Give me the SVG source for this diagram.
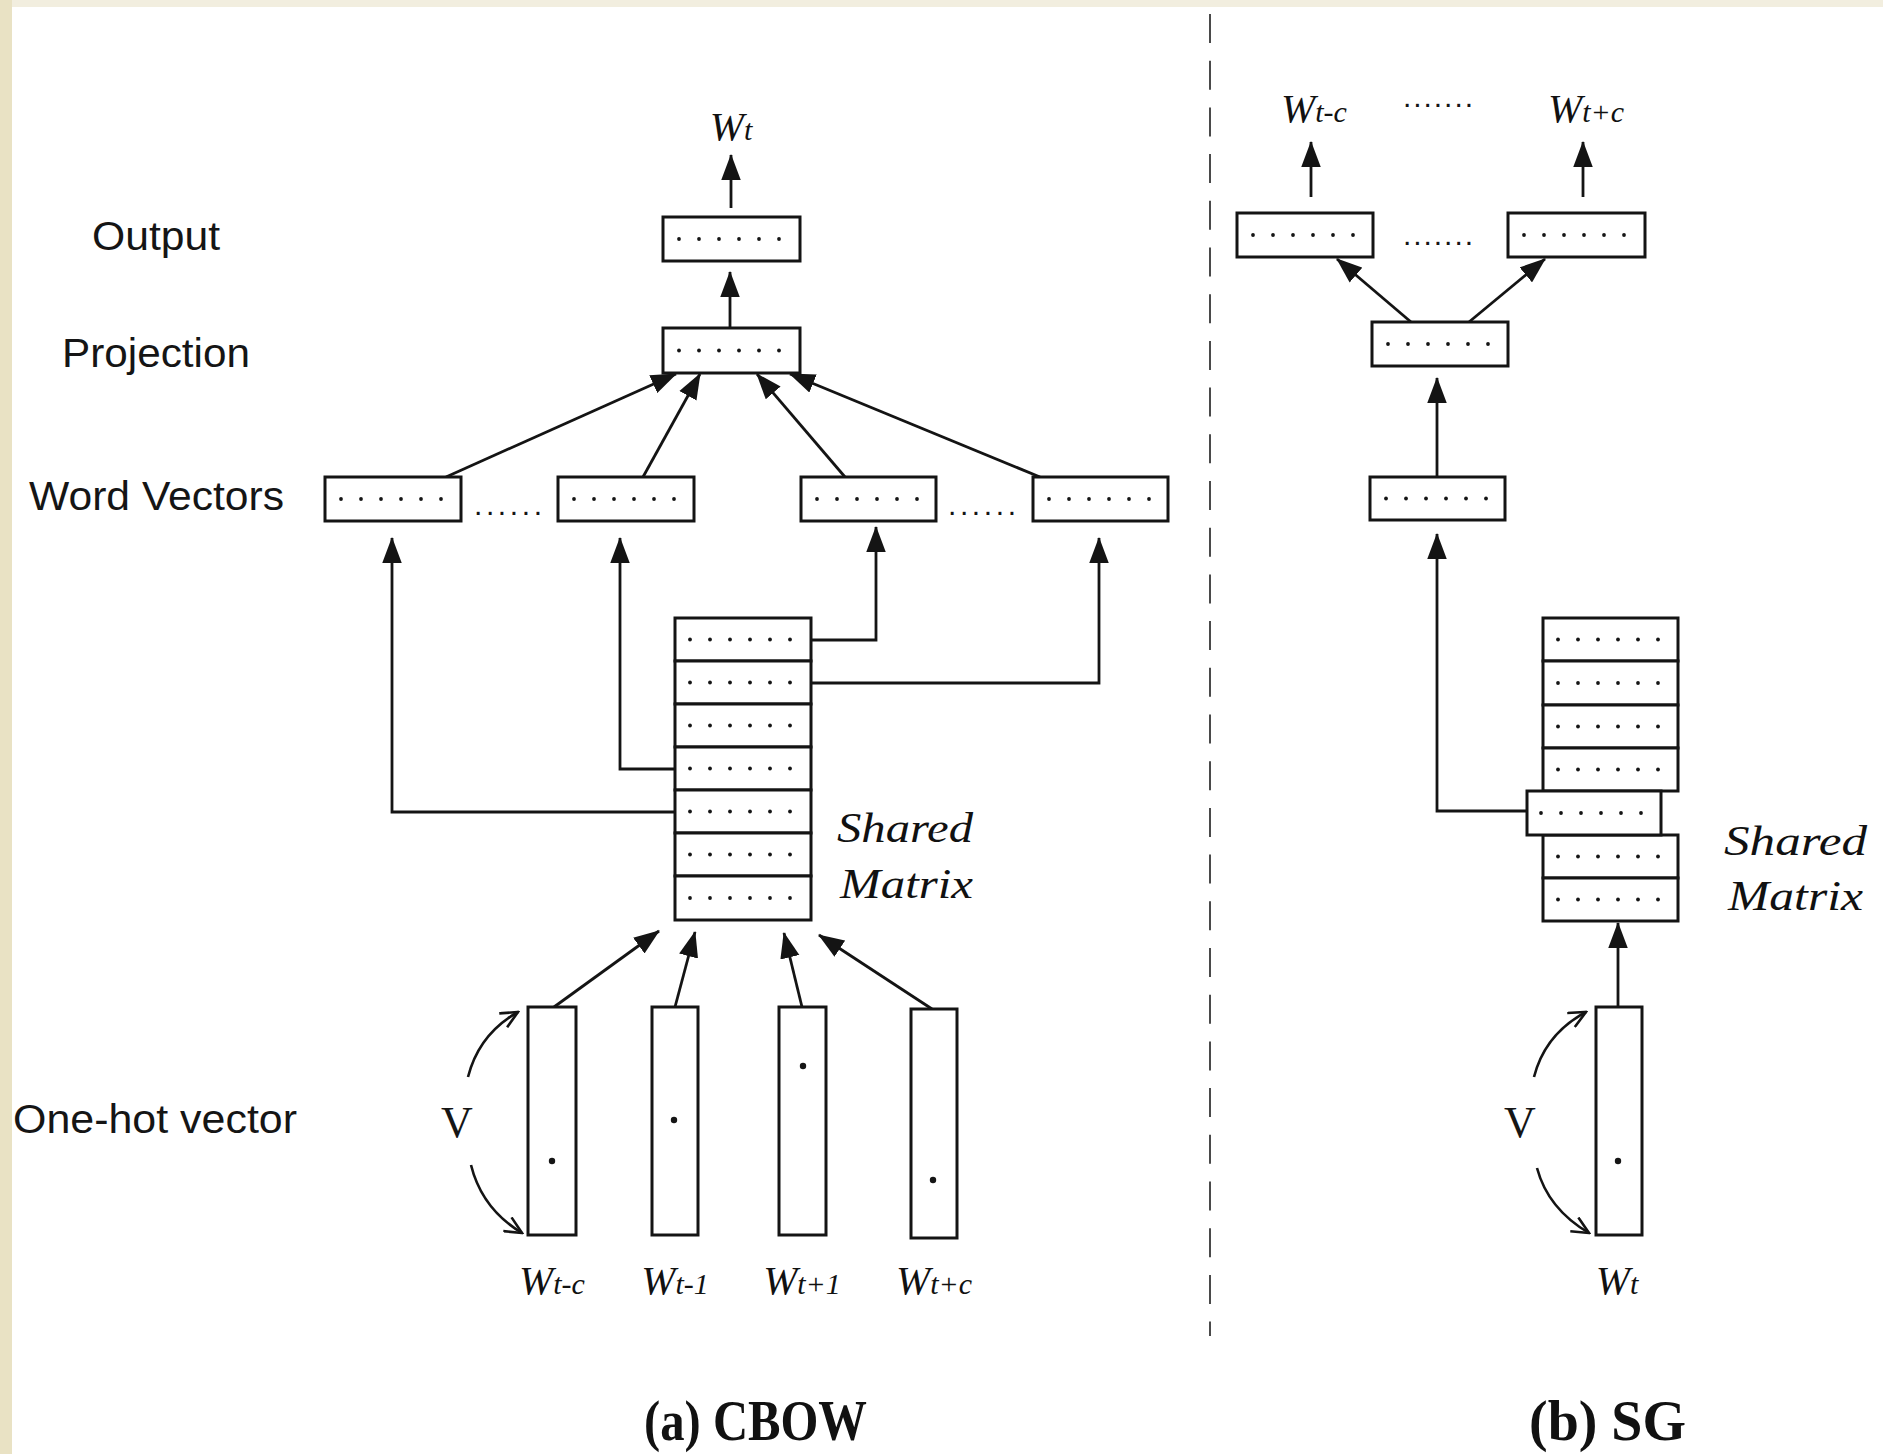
<svg xmlns="http://www.w3.org/2000/svg" xmlns:xlink="http://www.w3.org/1999/xlink" width="1883" height="1454" viewBox="0 0 1883 1454">
<style>
.box{fill:#fff;stroke:#141414;stroke-width:3}
.ln{fill:none;stroke:#141414;stroke-width:2.8}
.arr{marker-end:url(#ah)}
.oarr{fill:none;stroke:#141414;stroke-width:2.6;marker-end:url(#oh)}
.lab{font-family:"Liberation Sans",Arial,sans-serif;font-size:40px;fill:#151515}
.w{font-family:"Liberation Serif","Times New Roman",serif;font-style:italic;fill:#111;text-anchor:middle}
.sub{font-size:30px}
.sm{font-family:"Liberation Serif","Times New Roman",serif;font-style:italic;font-size:42px;fill:#111}
.v{font-family:"Liberation Serif","Times New Roman",serif;font-size:44px;fill:#151515;text-anchor:middle}
.cap{font-family:"Liberation Serif","Times New Roman",serif;font-weight:bold;font-size:56px;fill:#111}
.ell{font-family:"Liberation Sans",Arial,sans-serif;font-size:30px;fill:#151515}
.dot{fill:#151515}
</style>
<defs>
<marker id="ah" markerUnits="userSpaceOnUse" markerWidth="26" markerHeight="20" viewBox="0 0 24 18" refX="23" refY="9" orient="auto">
<path d="M0,0 L24,9 L0,18 z" fill="#141414"/>
</marker>
<marker id="oh" markerUnits="userSpaceOnUse" markerWidth="20" markerHeight="18" viewBox="0 0 20 18" refX="18" refY="9" orient="auto">
<path d="M1,1 L18,9 L1,17" fill="none" stroke="#141414" stroke-width="2.6"/>
</marker>
<g id="d6">
<circle class="dot" cx="0" cy="0" r="1.9"/><circle class="dot" cx="20" cy="0" r="1.9"/><circle class="dot" cx="40" cy="0" r="1.9"/><circle class="dot" cx="60" cy="0" r="1.9"/><circle class="dot" cx="80" cy="0" r="1.9"/><circle class="dot" cx="100" cy="0" r="1.9"/>
</g>
</defs>
<rect x="0" y="0" width="1883" height="1454" fill="#fff"/>
<rect x="0" y="0" width="1883" height="7" fill="#f2eedf"/>
<rect x="0" y="0" width="12" height="1454" fill="#e9e2c4"/>

<!-- separator -->
<line x1="1210" y1="14" x2="1210" y2="1336" stroke="#4a4a4a" stroke-width="2" stroke-dasharray="29 17.7"/>

<!-- row labels -->
<g id="labels">
<text class="lab" x="92" y="250" textLength="128" lengthAdjust="spacingAndGlyphs">Output</text>
<text class="lab" x="62" y="367" textLength="188" lengthAdjust="spacingAndGlyphs">Projection</text>
<text class="lab" x="29" y="510" textLength="255" lengthAdjust="spacingAndGlyphs">Word Vectors</text>
<text class="lab" x="13" y="1133" textLength="284" lengthAdjust="spacingAndGlyphs">One-hot vector</text>
</g>

<g id="connectors">
<!-- CBOW -->
<path class="ln arr" d="M731,208 V155"/>
<path class="ln arr" d="M730,327 V272"/>
<path class="ln arr" d="M446,477 L676,374"/>
<path class="ln arr" d="M643,477 L700,374"/>
<path class="ln arr" d="M845,477 L757,374"/>
<path class="ln arr" d="M1040,477 L790,374"/>
<path class="ln arr" d="M675,812 H392 V538"/>
<path class="ln arr" d="M675,769 H620 V538"/>
<path class="ln arr" d="M811,640 H876 V527"/>
<path class="ln arr" d="M811,683 H1099 V538"/>
<path class="ln arr" d="M554,1007 L659,931"/>
<path class="ln arr" d="M675,1007 L695,932"/>
<path class="ln arr" d="M802,1007 L784,933"/>
<path class="ln arr" d="M932,1009 L819,935"/>
<path class="oarr" d="M468,1077 Q479,1034 518,1012"/>
<path class="oarr" d="M471,1165 Q482,1209 522,1233"/>
<!-- SG -->
<path class="ln arr" d="M1311,197 V142"/>
<path class="ln arr" d="M1583,197 V142"/>
<path class="ln arr" d="M1411,322 L1337,259"/>
<path class="ln arr" d="M1469,322 L1545,259"/>
<path class="ln arr" d="M1437,477 V378"/>
<path class="ln arr" d="M1527,811 H1437 V534"/>
<path class="ln arr" d="M1618,1007 V923"/>
<path class="oarr" d="M1534,1077 Q1545,1034 1586,1012"/>
<path class="oarr" d="M1537,1168 Q1548,1209 1589,1233"/>
</g>

<!-- ================= CBOW ================= -->
<g id="cbow-wt"><text class="w" x="731" y="140"><tspan font-size="41">W</tspan><tspan class="sub">t</tspan></text></g>
<g id="cbow-output"><rect class="box" x="663" y="217" width="137" height="44"/><use xlink:href="#d6" x="679" y="239"/></g>
<g id="cbow-projection"><rect class="box" x="663" y="328" width="137" height="45"/><use xlink:href="#d6" x="679" y="350.5"/></g>
<g id="cbow-wv1"><rect class="box" x="325" y="477" width="136" height="44"/><use xlink:href="#d6" x="341" y="499"/></g>
<g id="cbow-wv2"><rect class="box" x="558" y="477" width="136" height="44"/><use xlink:href="#d6" x="574" y="499"/></g>
<g id="cbow-wv3"><rect class="box" x="801" y="477" width="135" height="44"/><use xlink:href="#d6" x="817" y="499"/></g>
<g id="cbow-wv4"><rect class="box" x="1033" y="477" width="135" height="44"/><use xlink:href="#d6" x="1049" y="499"/></g>
<text class="ell" x="474" y="515" textLength="68" lengthAdjust="spacing">......</text>
<text class="ell" x="948" y="515" textLength="68" lengthAdjust="spacing">......</text>

<g id="cbow-matrix">
<rect class="box" x="675" y="618" width="136" height="43"/><use xlink:href="#d6" x="690" y="639.5"/>
<rect class="box" x="675" y="661" width="136" height="43"/><use xlink:href="#d6" x="690" y="682.5"/>
<rect class="box" x="675" y="704" width="136" height="43"/><use xlink:href="#d6" x="690" y="725.5"/>
<rect class="box" x="675" y="747" width="136" height="43"/><use xlink:href="#d6" x="690" y="768.5"/>
<rect class="box" x="675" y="790" width="136" height="43"/><use xlink:href="#d6" x="690" y="811.5"/>
<rect class="box" x="675" y="833" width="136" height="43"/><use xlink:href="#d6" x="690" y="854.5"/>
<rect class="box" x="675" y="876" width="136" height="44"/><use xlink:href="#d6" x="690" y="898"/>
<text class="sm" x="837" y="842" textLength="136" lengthAdjust="spacingAndGlyphs">Shared</text>
<text class="sm" x="840" y="898" textLength="133" lengthAdjust="spacingAndGlyphs">Matrix</text>
</g>

<g id="cbow-oh1"><rect class="box" x="528" y="1007" width="48" height="228"/><circle class="dot" cx="552" cy="1161" r="3.2"/></g>
<g id="cbow-oh2"><rect class="box" x="652" y="1007" width="46" height="228"/><circle class="dot" cx="674" cy="1120" r="3.2"/></g>
<g id="cbow-oh3"><rect class="box" x="779" y="1007" width="47" height="228"/><circle class="dot" cx="803" cy="1066" r="3.2"/></g>
<g id="cbow-oh4"><rect class="box" x="911" y="1009" width="46" height="229"/><circle class="dot" cx="933" cy="1180" r="3.2"/></g>
<text class="v" x="457" y="1137">V</text>
<text class="w" x="552" y="1294"><tspan font-size="41">W</tspan><tspan class="sub">t-c</tspan></text>
<text class="w" x="675" y="1294"><tspan font-size="41">W</tspan><tspan class="sub">t-1</tspan></text>
<text class="w" x="802" y="1294"><tspan font-size="41">W</tspan><tspan class="sub">t+1</tspan></text>
<text class="w" x="934" y="1294"><tspan font-size="41">W</tspan><tspan class="sub">t+c</tspan></text>
<text class="cap" x="644" y="1440" textLength="223" lengthAdjust="spacingAndGlyphs">(a) CBOW</text>

<!-- ================= SG ================= -->
<text class="w" x="1314" y="122"><tspan font-size="41">W</tspan><tspan class="sub">t-c</tspan></text>
<text class="ell" x="1403" y="107" textLength="70" lengthAdjust="spacing">.......</text>
<text class="w" x="1586" y="122"><tspan font-size="41">W</tspan><tspan class="sub">t+c</tspan></text>
<g id="sg-out1"><rect class="box" x="1237" y="213" width="136" height="44"/><use xlink:href="#d6" x="1253" y="235"/></g>
<g id="sg-out2"><rect class="box" x="1508" y="213" width="137" height="44"/><use xlink:href="#d6" x="1524" y="235"/></g>
<text class="ell" x="1403" y="245" textLength="70" lengthAdjust="spacing">.......</text>
<g id="sg-projection"><rect class="box" x="1372" y="322" width="136" height="44"/><use xlink:href="#d6" x="1388" y="344"/></g>
<g id="sg-wv"><rect class="box" x="1370" y="477" width="135" height="43"/><use xlink:href="#d6" x="1386" y="498.5"/></g>

<g id="sg-matrix">
<rect class="box" x="1543" y="618" width="135" height="43"/><use xlink:href="#d6" x="1558" y="639.5"/>
<rect class="box" x="1543" y="661" width="135" height="44"/><use xlink:href="#d6" x="1558" y="683"/>
<rect class="box" x="1543" y="705" width="135" height="43"/><use xlink:href="#d6" x="1558" y="726.5"/>
<rect class="box" x="1543" y="748" width="135" height="43"/><use xlink:href="#d6" x="1558" y="769.5"/>
<rect class="box" x="1543" y="835" width="135" height="43"/><use xlink:href="#d6" x="1558" y="856.5"/>
<rect class="box" x="1543" y="878" width="135" height="43"/><use xlink:href="#d6" x="1558" y="899.5"/>
<rect class="box" x="1527" y="791" width="134" height="44"/><use xlink:href="#d6" x="1541" y="813"/>
<text class="sm" x="1724" y="855" textLength="143" lengthAdjust="spacingAndGlyphs">Shared</text>
<text class="sm" x="1728" y="910" textLength="135" lengthAdjust="spacingAndGlyphs">Matrix</text>
</g>

<g id="sg-oh"><rect class="box" x="1596" y="1007" width="46" height="228"/><circle class="dot" cx="1618" cy="1161" r="3.2"/></g>
<text class="v" x="1520" y="1137">V</text>
<text class="w" x="1617" y="1294"><tspan font-size="41">W</tspan><tspan class="sub">t</tspan></text>
<text class="cap" x="1529" y="1440" textLength="157" lengthAdjust="spacingAndGlyphs">(b) SG</text>
</svg>
